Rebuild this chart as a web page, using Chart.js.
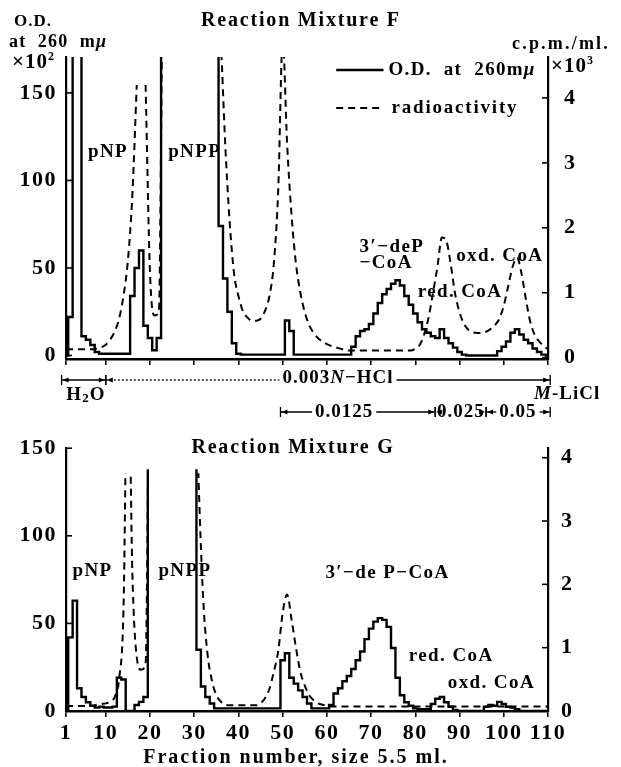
<!DOCTYPE html>
<html><head><meta charset="utf-8">
<script src="https://cdn.jsdelivr.net/npm/chart.js@4.4.1/dist/chart.umd.min.js"></script>
<style>
html,body{margin:0;padding:0;background:#fff;}
#wrap{position:relative;width:621px;height:767px;overflow:hidden;}
canvas{position:absolute;left:0;}
#cF{top:0;} #cG{top:430px;}
</style></head><body>
<div id="wrap"><canvas id="cF" width="621" height="430"></canvas><canvas id="cG" width="621" height="337"></canvas></div>
<script>
// ---------------- data ----------------
const fractions = [1,2,3,4,5,6,7,8,9,10,11,12,13,14,15,16,17,18,19,20,21,22,23,24,25,26,27,28,29,30,
31,32,33,34,35,36,37,38,39,40,41,42,43,44,45,46,47,48,49,50,51,52,53,54,55,56,57,58,59,60,
61,62,63,64,65,66,67,68,69,70,71,72,73,74,75,76,77,78,79,80,81,82,83,84,85,86,87,88,89,90,
91,92,93,94,95,96,97,98,99,100,101,102,103,104,105,106,107,108,109,110];
const xTickValues = [1,10,20,30,40,50,60,70,80,90,100,110];
const odTicks = [0,50,100,150];
const cpmTicks = [0,1,2,3,4];

// Reaction Mixture F : O.D. at 260 mμ (×10²), off-scale values run past the top of the plot
const odF = [0,22,250,250,11,9,6,2,1,1,1,1,1,1,1,34,50,60,17,10,3,10,
250,250,250,250,250,250,250,250,250,250,250,250,250,
74,44,25,7,1,0.5,0.5,0.5,0.5,0.5,0.5,0.5,0.5,0.5,0.5,20,14,
0.5,0.5,0.5,0.5,0.5,0.5,0.5,0.5,0.5,0.5,0.5,0.5,0.5,
5,11,14,15,18,24,30,35,38,41,43,40,34,29,24,19,15,13,11,10,15,10,7,4.5,2,0.5,
0,0,0,0,0,0,0,
2.5,5,8,13,15,12,9,7,4,2,0.5,0];
// Reaction Mixture F : radioactivity (c.p.m./ml ×10³)
const radF = [0.13,0.13,0.13,0.13,0.13,0.13,0.13,0.14,0.16,0.2,0.28,0.4,0.6,0.95,1.5,2.5,4.2,null,4.2,1.3,0.65,0.7,
6,6,6,6,6,6,6,6,6,6,6,6,6,
4.9,3.3,2.1,1.3,0.95,0.72,0.62,0.57,0.57,0.6,0.72,0.95,1.45,2.6,4.9,3.3,2.2,1.45,1.0,0.7,0.5,0.38,0.3,0.25,0.21,0.18,0.16,0.14,0.12,
0.11,0.11,0.11,0.11,0.11,0.11,0.11,0.11,0.11,0.11,0.11,0.11,0.11,0.11,0.11,
0.14,0.2,0.36,0.62,1.0,1.4,1.85,1.8,1.44,0.98,0.7,0.52,0.43,0.39,0.38,0.38,0.4,0.44,0.5,0.6,0.8,1.1,1.4,1.54,1.3,0.9,0.55,0.35,0.25,0.18,0.13];

// Reaction Mixture G
const odG = [0,42,63,13,8,5,3,2,2.5,2,2,2.5,19,18,0,0,3.4,5.2,8,
250,250,250,250,250,250,250,250,250,250,250,
35,14,8,4.3,1.5,
1.5,1.5,1.5,1.5,1.5,1.5,1.5,1.5,1.5,1.5,1.5,1.5,1.5,1.5,
29,33,19,15.6,11.8,8,4.3,
1.5,1.5,1.5,1.5,
3.4,10,13,17,20,24,29,34,41,47,51,53,52,48,36,19,9,5,3,1.5,1,1,1,4,7,8,5,2.4,0.6,
0,0,0,0,0,0,
2.4,3.4,3,5.2,4,2.4,2,1,
0,0,0,0,0,0,0];
const radG = [0.07,0.08,0.08,0.08,0.08,0.08,0.08,0.1,0.11,0.12,0.15,0.22,0.5,1.6,6,2.2,0.85,0.65,0.75,
6,6,6,6,6,6,6,6,6,6,6,
3.6,1.8,0.9,0.48,0.25,0.15,0.1,
0.09,0.09,0.09,0.09,0.09,0.09,0.09,
0.12,0.2,0.35,0.62,0.95,1.55,1.84,1.45,1.0,0.62,0.4,0.25,0.17,0.12,0.1,0.09,
0.07,0.07,0.07,0.07,0.07,0.07,0.07,0.07,0.07,0.07,0.07,0.07,0.07,0.07,0.07,0.07,0.07,0.07,0.07,0.07,
0.07,0.07,0.07,0.07,0.07,0.07,0.07,0.07,0.07,0.07,0.07,0.07,0.07,0.07,0.07,0.07,0.07,0.07,0.07,0.07,
0.07,0.07,0.07,0.07,0.07,0.07,0.07,0.07,0.07,0.07];

// peak labels: text, fraction, O.D. value
const labelTextF = ['pNP','pNPP','3′−deP','−CoA','red. CoA','oxd. CoA'];
const labelFracF = [10.5,30.1,74.7,73.4,90.1,99.1];
const labelValF  = [116,116,62,52.8,36.3,57];
const labelTextG = ['pNP','pNPP','3′−de P−CoA','red. CoA','oxd. CoA'];
const labelFracG = [7,27.9,73.7,88.1,97.2];
const labelValG  = [79.8,79.8,78.7,31.1,15.8];

// elution programme
const elutionLabel = ['H₂O','0.003N−HCl','0.0125','0.025','0.05'];
const elutionFrom  = [0,10,49.5,84.5,96];
const elutionTo    = [10,110.5,84.5,96,110.5];
const elutionRow   = [1,1,2,2,2];
const elutionAt    = [5.5,62.5,63.9,90.3,103.2];

// ---------------- helpers ----------------
const SERIF = "'Liberation Serif','DejaVu Serif','Times New Roman',serif";
const F = (size, italic) => `${italic ? 'italic ' : ''}bold ${size}px ${SERIF}`;
const pts = arr => fractions.map((f, i) => ({x: f, y: arr[i]}));

function text(ctx, s, x, y, size, align, spacing) {
  ctx.letterSpacing = (spacing == null ? 1.5 : spacing) + 'px';
  ctx.font = F(size);
  ctx.textAlign = align || 'center';
  ctx.textBaseline = 'middle';
  ctx.fillStyle = '#000';
  ctx.fillText(s, x, y);
}
// rich text: parts [[string, italic, dy, size]]
function rich(ctx, parts, x, y, size, align, spacing) {
  ctx.letterSpacing = (spacing == null ? 1.5 : spacing) + 'px';
  ctx.textAlign = 'left'; ctx.textBaseline = 'middle'; ctx.fillStyle = '#000';
  let w = 0;
  for (const p of parts) { ctx.font = F(p[3] || size, p[1]); w += ctx.measureText(p[0]).width; }
  let cx = align === 'center' ? x - w / 2 : (align === 'right' ? x - w : x);
  const left = cx;
  for (const p of parts) {
    ctx.font = F(p[3] || size, p[1]);
    ctx.fillText(p[0], cx, y + (p[2] || 0));
    cx += ctx.measureText(p[0]).width;
  }
  return {left, right: cx};
}
function seg(ctx, x0, y0, x1, y1) { ctx.beginPath(); ctx.moveTo(x0, y0); ctx.lineTo(x1, y1); ctx.stroke(); }
function arrowHead(ctx, x, y, dir) {
  ctx.beginPath(); ctx.moveTo(x, y); ctx.lineTo(x - dir * 6, y - 2.5); ctx.lineTo(x - dir * 6, y + 2.5); ctx.closePath(); ctx.fill();
}
function inwardTicks(ctx, ca, yL, yR) {
  ctx.strokeStyle = '#000'; ctx.lineWidth = 1.6;
  for (const t of yL.ticks) { const p = yL.getPixelForValue(t.value); seg(ctx, ca.left, p, ca.left + 6, p); }
  for (const t of yR.ticks) { const p = yR.getPixelForValue(t.value); seg(ctx, ca.right - 6, p, ca.right, p); }
}

function scalesFor(opts) {
  return {
    x: {
      type: 'linear', min: 1, max: 110,
      afterBuildTicks: s => { s.ticks = xTickValues.map(v => ({value: v})); },
      afterFit: s => { s.height = opts.xHeight; },
      ticks: {display: opts.xLabels, autoSkip: false, maxRotation: 0, color: '#000', padding: 3,
              font: {family: SERIF, size: 22, weight: 'bold'}},
      grid: {display: true, drawOnChartArea: false, drawTicks: true, tickLength: 6, color: '#000', lineWidth: 1.6},
      border: {display: true, color: '#000', width: 2.4}
    },
    yL: {
      type: 'linear', position: 'left', min: opts.lMin, max: opts.lMax,
      afterBuildTicks: s => { s.ticks = odTicks.map(v => ({value: v})); },
      afterFit: s => { s.width = 66; },
      ticks: {color: '#000', padding: 1, font: {family: SERIF, size: 22, weight: 'bold'}},
      grid: {display: false},
      border: {display: true, color: '#000', width: 2.2}
    },
    yR: {
      type: 'linear', position: 'right', min: opts.rMin, max: opts.rMax,
      afterBuildTicks: s => { s.ticks = cpmTicks.map(v => ({value: v})); },
      afterFit: s => { s.width = 73; },
      ticks: {color: '#000', padding: opts.rPad, font: {family: SERIF, size: 22, weight: 'bold'}},
      grid: {display: false},
      border: {display: true, color: '#000', width: 2.2}
    }
  };
}

function datasets(od, rad, odClip, radClip) {
  return [
    {label: 'radioactivity', data: pts(rad), yAxisID: 'yR', borderColor: '#000', borderWidth: 2,
     borderDash: [7, 5], pointRadius: 0, cubicInterpolationMode: 'monotone', spanGaps: false,
     fill: false, clip: radClip},
    {label: 'O.D. at 260mμ', data: pts(od), yAxisID: 'yL', borderColor: '#000', borderWidth: 2.4,
     pointRadius: 0, stepped: 'middle', spanGaps: false, fill: false, clip: odClip}
  ];
}

// ---------------- chart F ----------------
const annF = {
  id: 'annF',
  beforeDraw(chart) { chart.ctx.letterSpacing = '1.5px'; },
  afterDraw(chart) {
    const {ctx, chartArea: ca, scales: {x, yL, yR}} = chart;
    ctx.save();
    inwardTicks(ctx, ca, yL, yR);
    // titles
    text(ctx, 'Reaction Mixture F', 301, 21, 20, 'center', 1.8);
    text(ctx, 'O.D.', 14, 22, 17, 'left', 1);
    rich(ctx, [['at  260  m', false], ['μ', true]], 9, 42, 18, 'left', 1.2);
    rich(ctx, [['×10', false], ['2', false, -6, 12]], 12, 63, 21, 'left', 1);
    text(ctx, 'c.p.m./ml.', 512, 44, 18, 'left', 2.2);
    rich(ctx, [['×10', false], ['3', false, -6, 12]], 551, 67, 21, 'left', 1);
    // legend
    ctx.strokeStyle = '#000'; ctx.lineWidth = 2.4; ctx.setLineDash([]);
    const lx0 = x.getPixelForValue(62.1), lx1 = x.getPixelForValue(72.8);
    seg(ctx, lx0, 70, lx1, 70);
    rich(ctx, [['O.D.  at  260m', false], ['μ', true]], lx1 + 5, 70, 19, 'left', 1.3);
    ctx.lineWidth = 2; ctx.setLineDash([7, 5]);
    seg(ctx, lx0, 108, lx1, 108);
    ctx.setLineDash([]);
    text(ctx, 'radioactivity', lx1 + 8, 108, 19, 'left', 1.8);
    // peak labels
    labelTextF.forEach((s, i) => text(ctx, s, x.getPixelForValue(labelFracF[i]), yL.getPixelForValue(labelValF[i]), 19, 'center', 1.4));
    // elution programme
    ctx.strokeStyle = '#000'; ctx.fillStyle = '#000';
    const rowY = {1: 380, 2: 412};
    elutionLabel.forEach((s, i) => {
      const x0 = x.getPixelForValue(elutionFrom[i]), x1 = x.getPixelForValue(elutionTo[i]);
      const y = rowY[elutionRow[i]];
      const cx = x.getPixelForValue(elutionAt[i]);
      let box;
      if (i === 0) {
        box = null;
        rich(ctx, [['H', false], ['2', false, 4, 13], ['O', false]], cx, 395, 19, 'center', 1);
      } else if (i === 1) {
        box = rich(ctx, [['0.003', false], ['N', true], ['−HCl', false]], cx, y - 2, 19, 'center', 1);
      } else {
        box = rich(ctx, [[s, false]], cx, y, 19, 'center', 1);
      }
      ctx.lineWidth = 1.3;
      if (box) {
        if (i === 1) { ctx.setLineDash([2, 2]); }
        if (box.left - 3 > x0 + 6) seg(ctx, x0, y, box.left - 3, y);
        ctx.setLineDash([]);
        if (box.right + 3 < x1 - 6) seg(ctx, box.right + 3, y, x1, y);
      } else {
        seg(ctx, x0, y, x1, y);
      }
      seg(ctx, x0, y - 5, x0, y + 5); seg(ctx, x1, y - 5, x1, y + 5);
      arrowHead(ctx, x0 + 1, y, -1); arrowHead(ctx, x1 - 1, y, 1);
    });
    rich(ctx, [['M', true], ['-LiCl', false]], 534, 394, 19, 'left', 1);
    ctx.restore();
  }
};

new Chart(document.getElementById('cF'), {
  type: 'line',
  data: {datasets: datasets(odF, radF, 0, 0)},
  options: {
    responsive: false, animation: false, devicePixelRatio: 1,
    layout: {padding: {top: 57, left: 0, right: 0, bottom: 0}},
    plugins: {legend: {display: false}, tooltip: {enabled: false}},
    scales: scalesFor({xHeight: 71, xLabels: false, lMin: -2, lMax: 170.5, rMin: -0.02, rMax: 4.63, rPad: 8})
  },
  plugins: [annF]
});

// ---------------- chart G ----------------
const annG = {
  id: 'annG',
  beforeDraw(chart) { chart.ctx.letterSpacing = '1.5px'; },
  afterDraw(chart) {
    const {ctx, chartArea: ca, scales: {x, yL, yR}} = chart;
    ctx.save();
    inwardTicks(ctx, ca, yL, yR);
    text(ctx, 'Reaction Mixture G', 293, 18, 20, 'center', 1.8);
    labelTextG.forEach((s, i) => text(ctx, s, x.getPixelForValue(labelFracG[i]), yL.getPixelForValue(labelValG[i]), 19, 'center', 1.4));
    text(ctx, 'Fraction number, size 5.5 ml.', 296, 328, 20, 'center', 2);
    ctx.restore();
  }
};

new Chart(document.getElementById('cG'), {
  type: 'line',
  data: {datasets: datasets(odG, radG, {left: 0, right: 0, bottom: 0, top: -21}, {left: 0, right: 0, bottom: 0, top: -25})},
  options: {
    responsive: false, animation: false, devicePixelRatio: 1,
    layout: {padding: {top: 16, left: 0, right: 0, bottom: 0}},
    plugins: {legend: {display: false}, tooltip: {enabled: false}},
    scales: scalesFor({xHeight: 56, xLabels: true, lMin: 0, lMax: 150, rMin: 0, rMax: 4.15, rPad: 5})
  },
  plugins: [annG]
});
</script>
</body></html>
